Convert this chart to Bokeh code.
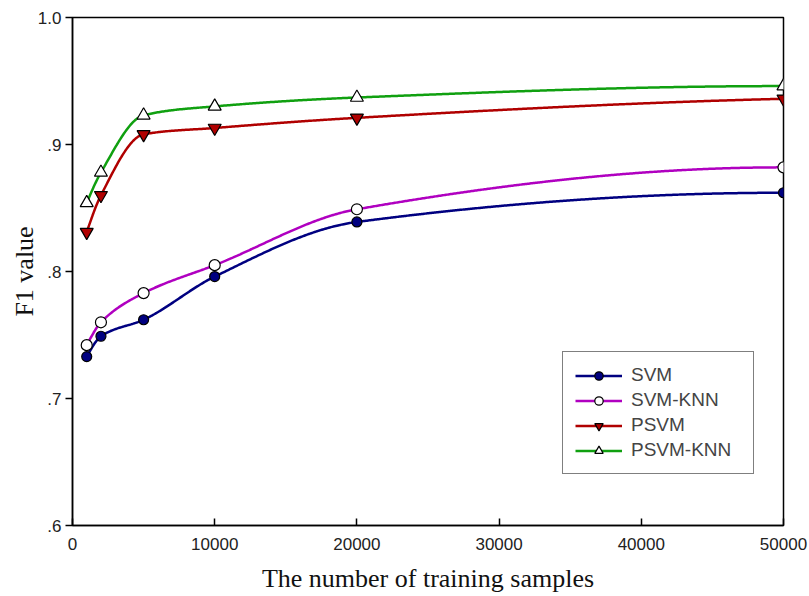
import numpy as np
from bokeh.plotting import figure
from bokeh.models import FixedTicker, Legend, LegendItem, Range1d
from bokeh.embed import file_html
from bokeh.resources import INLINE

samples = [1000, 2000, 5000, 10000, 20000, 50000]
svm = [0.733, 0.749, 0.762, 0.796, 0.839, 0.862]
svm_knn = [0.742, 0.760, 0.783, 0.805, 0.849, 0.882]
psvm = [0.831, 0.860, 0.908, 0.913, 0.921, 0.936]
psvm_knn = [0.854, 0.878, 0.923, 0.930, 0.937, 0.946]

x_ticks = [0, 10000, 20000, 30000, 40000, 50000]
y_ticks = [0.6, 0.7, 0.8, 0.9, 1.0]
y_tick_labels = [".6", ".7", ".8", ".9", "1.0"]


def pchip(x, y, xs):
    x = np.asarray(x, float); y = np.asarray(y, float)
    n = len(x)
    h = np.diff(x); d = np.diff(y) / h
    m = np.zeros(n)
    for k in range(1, n - 1):
        if d[k - 1] * d[k] <= 0:
            m[k] = 0.0
        else:
            w1 = 2 * h[k] + h[k - 1]; w2 = h[k] + 2 * h[k - 1]
            m[k] = (w1 + w2) / (w1 / d[k - 1] + w2 / d[k])
    def endslope(h0, h1, d0, d1):
        s = ((2 * h0 + h1) * d0 - h0 * d1) / (h0 + h1)
        if np.sign(s) != np.sign(d0):
            s = 0.0
        elif np.sign(d0) != np.sign(d1) and abs(s) > abs(3 * d0):
            s = 3 * d0
        return s
    m[0] = endslope(h[0], h[1], d[0], d[1])
    m[-1] = endslope(h[-1], h[-2], d[-1], d[-2])
    idx = np.clip(np.searchsorted(x, xs) - 1, 0, n - 2)
    t = (xs - x[idx]) / h[idx]
    h00 = 2 * t**3 - 3 * t**2 + 1; h10 = t**3 - 2 * t**2 + t
    h01 = -2 * t**3 + 3 * t**2; h11 = t**3 - t**2
    return h00 * y[idx] + h10 * h[idx] * m[idx] + h01 * y[idx + 1] + h11 * h[idx] * m[idx + 1]


p = figure(width=808, height=595, output_backend="svg", toolbar_location=None,
           x_range=Range1d(0, 50000), y_range=Range1d(0.6, 1.0),
           min_border_left=72, min_border_right=25, min_border_top=17, min_border_bottom=69)
p.xgrid.visible = False
p.ygrid.visible = False
p.outline_line_color = "black"
p.outline_line_width = 1.5
p.background_fill_color = "white"

p.xaxis.ticker = FixedTicker(ticks=x_ticks)
p.xaxis.major_label_overrides = {t: str(t) for t in x_ticks}
p.yaxis.ticker = FixedTicker(ticks=y_ticks)
p.yaxis.major_label_overrides = {t: l for t, l in zip(y_ticks, y_tick_labels)}
p.xaxis.minor_tick_line_color = None
p.yaxis.minor_tick_line_color = None
p.xaxis.major_tick_in = 7
p.xaxis.major_tick_out = 0
p.yaxis.major_tick_in = 0
p.yaxis.major_tick_out = 7
for ax in (p.xaxis, p.yaxis):
    ax.axis_line_color = "black"
    ax.axis_line_width = 1.5
    ax.major_tick_line_color = "black"
    ax.major_tick_line_width = 1.5
    ax.major_label_text_font = "Liberation Sans"
    ax.major_label_text_font_size = "17px"
    ax.major_label_text_color = "#222222"
    ax.axis_label_text_font = "Liberation Serif"
    ax.axis_label_text_font_style = "normal"
    ax.axis_label_text_font_size = "26px"
    ax.axis_label_text_color = "#111111"
p.xaxis.major_label_standoff = 12
p.xaxis.axis_label_standoff = 11
p.yaxis.major_label_standoff = 4
p.yaxis.axis_label_standoff = -4
p.xaxis.axis_label = "The number of training samples"
p.yaxis.axis_label = "F1 value"

xs = np.linspace(samples[0], samples[-1], 600)
series = [
    ("SVM", svm, "#000080", "circle", "#000080", 10),
    ("SVM-KNN", svm_knn, "#B000C0", "circle", "white", 11),
    ("PSVM", psvm, "#B00000", "inverted_triangle", "#B00000", 13),
    ("PSVM-KNN", psvm_knn, "#10A010", "triangle", "white", 13),
]
items = []
for name, vals, col, marker, fill, size in series:
    ys = pchip(samples, vals, xs)
    r1 = p.line(xs, ys, line_color=col, line_width=2.5)
    r2 = p.scatter(samples, vals, marker=marker, size=size, fill_color=fill,
                   line_color="black", line_width=1.2)
    items.append(LegendItem(label=name, renderers=[r1, r2]))

legend = Legend(items=items, location=(490, 51))
legend.border_line_color = "black"
legend.border_line_width = 1.2
legend.background_fill_color = "white"
legend.background_fill_alpha = 1.0
legend.label_text_font = "Liberation Sans"
legend.label_text_font_size = "19px"
legend.glyph_width = 47
legend.glyph_height = 21
legend.label_height = 21
legend.label_width = 110
legend.spacing = 3
legend.padding = 12
legend.margin = 0
legend.label_standoff = 9
p.add_layout(legend, "center")

open("out.html", "w").write(file_html(p, INLINE))
